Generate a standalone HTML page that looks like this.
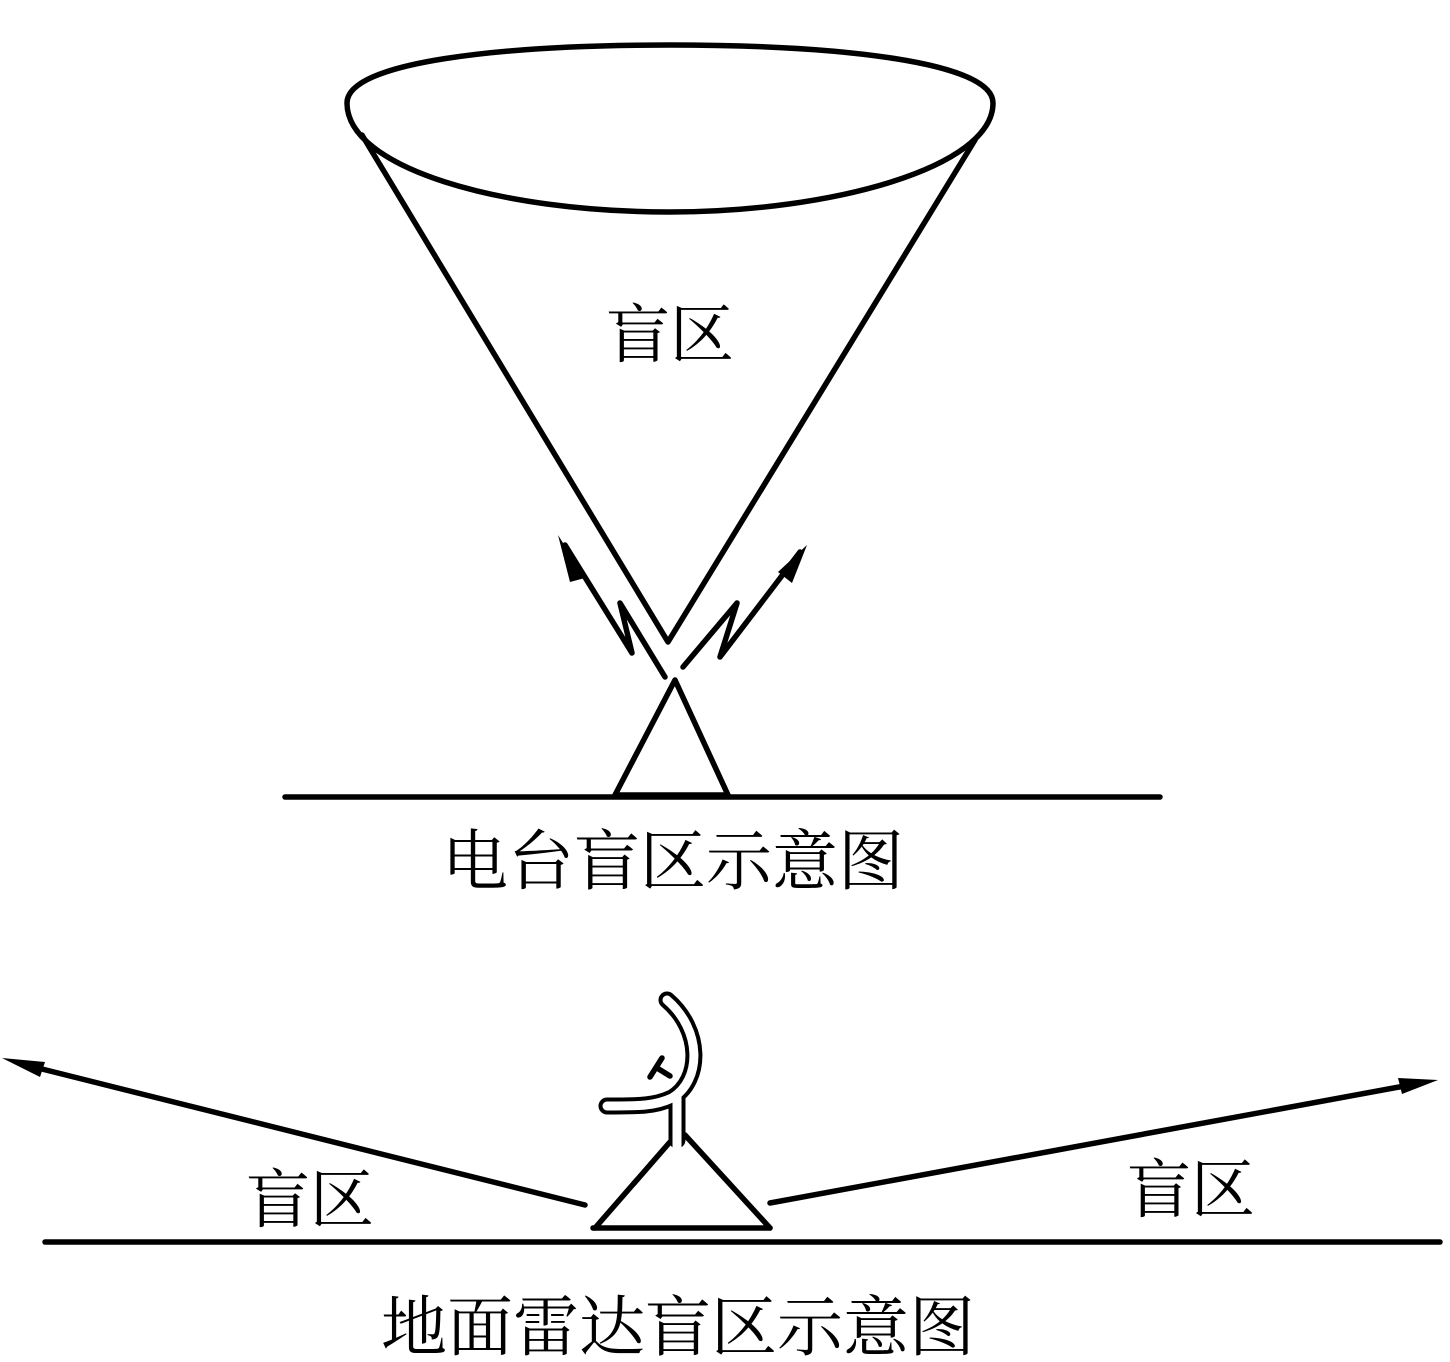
<!DOCTYPE html>
<html><head><meta charset="utf-8"><style>
html,body{margin:0;padding:0;background:#fff;}
svg{display:block;}
text{font-family:"Liberation Serif","Noto Serif CJK SC",serif;fill:#000;}
</style></head><body>
<svg width="1450" height="1362" viewBox="0 0 1450 1362" xmlns="http://www.w3.org/2000/svg">
<g fill="none" stroke="#000" stroke-width="5.5" stroke-linecap="round" stroke-linejoin="round">
<path d="M347,103 C347,62 500,45 670,45 C840,45 993,62 993,103 C993,168 830,212 670,212 C500,212 347,168 347,103 Z"/>
<polyline points="362,135 668,642 975,140"/>
<polygon points="675,680 615,795 728,795"/>
<line x1="285" y1="797" x2="1160" y2="797"/>
<polyline points="665,677 620,603 632,653 565,545"/>
<polyline points="683,667 737,603 720,657 800,552"/>
<line x1="593" y1="1228" x2="770" y2="1228"/>
<line x1="670" y1="1142" x2="595" y2="1228"/>
<line x1="685" y1="1135" x2="770" y2="1228"/>
<line x1="45" y1="1242" x2="1440" y2="1242"/>
<line x1="585" y1="1205" x2="30" y2="1066"/>
<line x1="770" y1="1203" x2="1410" y2="1085"/>
<line x1="650" y1="1077" x2="662" y2="1058"/>
<line x1="657" y1="1068" x2="670" y2="1076"/>
</g>
<path d="M667,1000 C702,1030 702,1080 672,1098 C655,1106 640,1106 607,1106 M677,1096 L677,1140" fill="none" stroke="#000" stroke-width="17" stroke-linecap="round" stroke-linejoin="round"/>
<path d="M667,1000 C702,1030 702,1080 672,1098 C655,1106 640,1106 607,1106 M677,1096 L677,1150" fill="none" stroke="#fff" stroke-width="9" stroke-linecap="round" stroke-linejoin="round"/>
<g fill="#000">
<polygon points="558,535 585,578 570,582"/>
<polygon points="807,545 792,583 778,572"/>
<polygon points="2,1058 45,1062 40,1077"/>
<polygon points="1438,1080 1398,1078 1402,1094"/>
</g>
<text x="606" y="357" font-size="64">盲区</text>
<text x="442" y="884" font-size="66">电台盲区示意图</text>
<text x="246" y="1222" font-size="64">盲区</text>
<text x="1127" y="1212" font-size="64">盲区</text>
<text x="381" y="1350" font-size="66">地面雷达盲区示意图</text>
</svg>
</body></html>
